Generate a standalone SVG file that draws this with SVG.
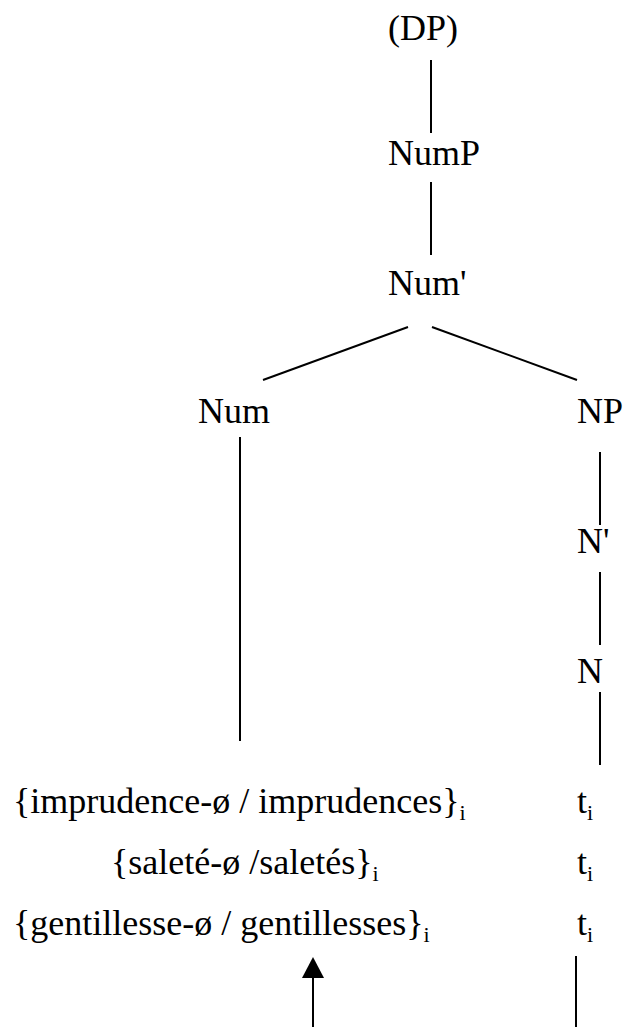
<svg xmlns="http://www.w3.org/2000/svg" width="626" height="1027" viewBox="0 0 626 1027">
<style>
text{font-family:"Liberation Serif","Times New Roman",serif;font-size:36px;fill:#000}
.sub{font-size:22px}
.e{stroke:#000;stroke-width:2;fill:none}
</style>
<rect width="626" height="1027" fill="#fff"/>
<g id="connectors">
<line class="e" x1="431" y1="60" x2="431" y2="133"/>
<line class="e" x1="431" y1="182" x2="431" y2="255"/>
<line class="e" x1="408" y1="327" x2="263" y2="380"/>
<line class="e" x1="432" y1="327" x2="577" y2="380"/>
<line class="e" x1="240" y1="437" x2="240" y2="741"/>
<line class="e" x1="600" y1="452" x2="600" y2="525"/>
<line class="e" x1="600" y1="572" x2="600" y2="645"/>
<line class="e" x1="600" y1="692" x2="600" y2="765"/>
<line class="e" x1="576" y1="956" x2="576" y2="1027"/>
<line class="e" x1="313" y1="1027" x2="313" y2="975"/>
<polygon points="313,957 302,978 324,978" fill="#000"/>
</g>
<g id="DP"><text x="388" y="40">(DP)</text></g>
<g id="NumP"><text x="388" y="165">NumP</text></g>
<g id="NumBar"><text x="388" y="295">Num'</text></g>
<g id="Num"><text x="198" y="423">Num</text></g>
<g id="NP"><text x="577" y="423">NP</text></g>
<g id="NBar"><text x="577" y="553">N'</text></g>
<g id="N"><text x="577" y="683">N</text></g>
<g id="row1"><text x="13" y="813">{imprudence-ø / imprudences}<tspan class="sub" dy="7">i</tspan></text></g>
<g id="row2"><text x="111" y="874">{saleté-ø /saletés}<tspan class="sub" dy="7">i</tspan></text></g>
<g id="row3"><text x="13" y="935">{gentillesse-ø / gentillesses}<tspan class="sub" dy="7">i</tspan></text></g>
<g id="t1"><text x="577" y="813">t<tspan class="sub" dy="7">i</tspan></text></g>
<g id="t2"><text x="577" y="874">t<tspan class="sub" dy="7">i</tspan></text></g>
<g id="t3"><text x="577" y="935">t<tspan class="sub" dy="7">i</tspan></text></g>
</svg>
